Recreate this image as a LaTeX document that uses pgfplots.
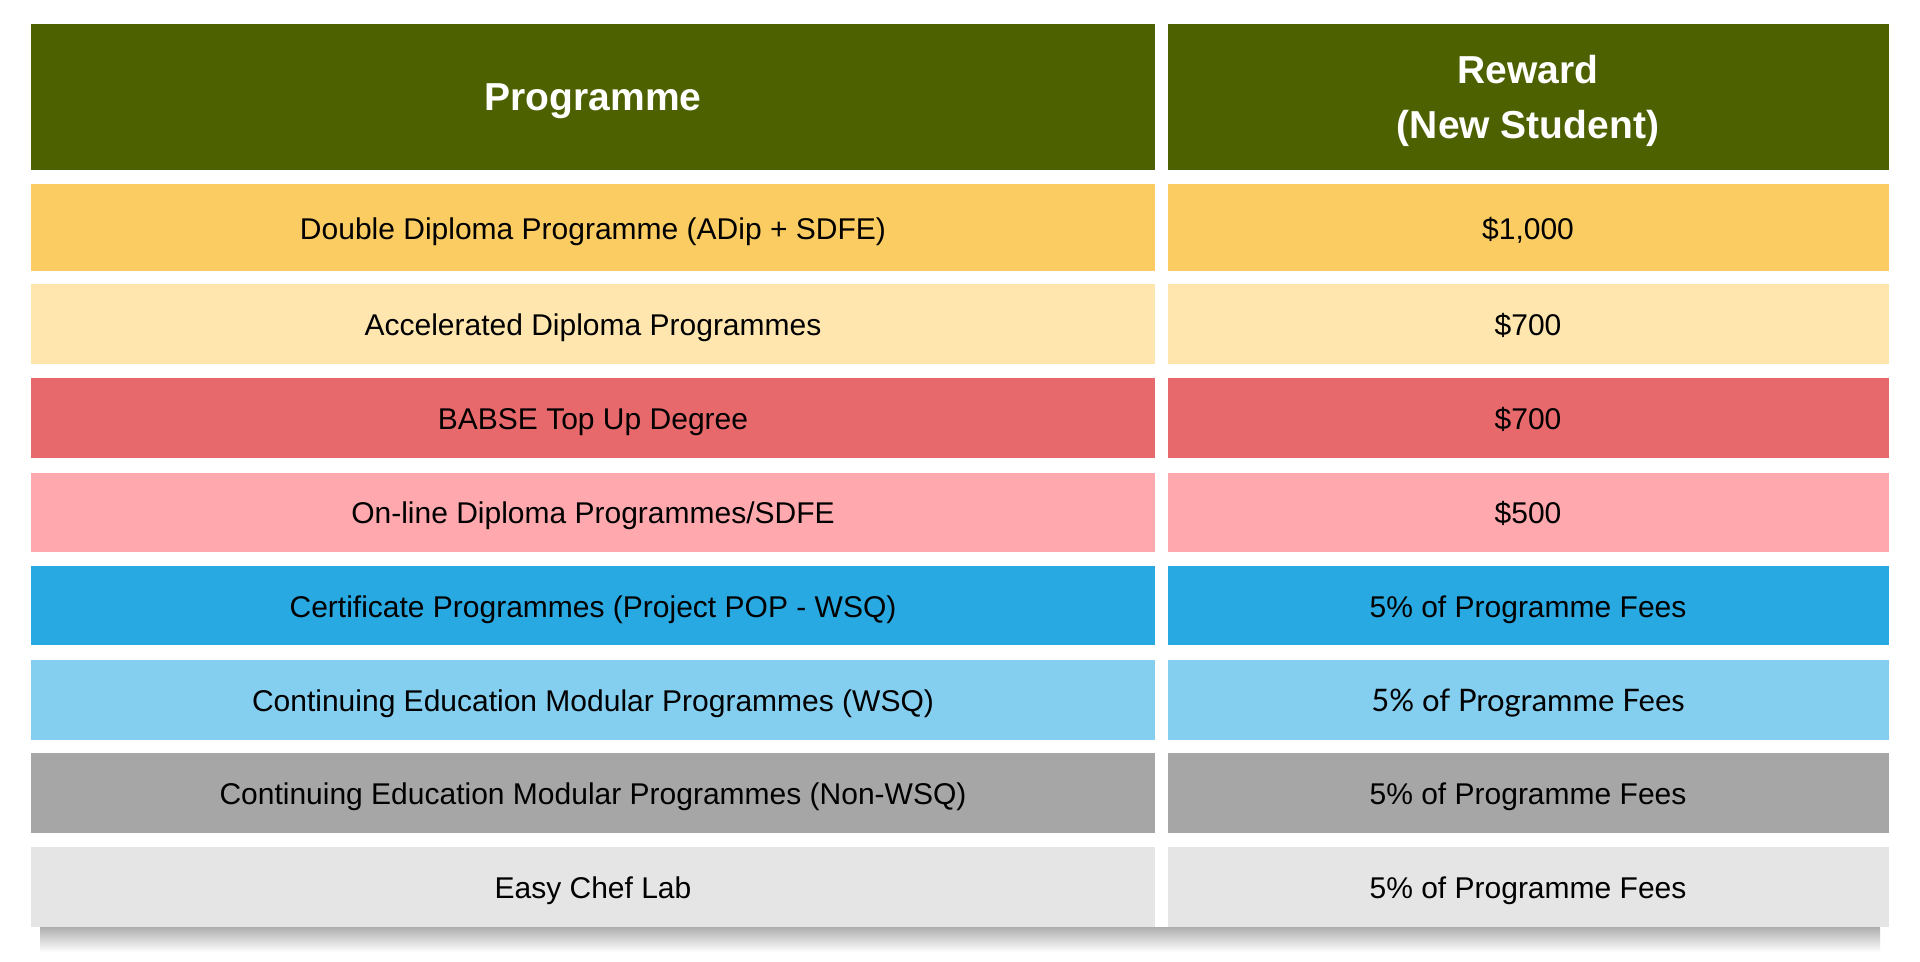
\documentclass[border=0pt]{standalone}
\usepackage{pgfplots}
\pgfplotsset{compat=1.18}
\usepackage{fontspec}
\setmainfont{Liberation Sans}
\newfontfamily\latofont{Lato}
\definecolor{hdr}{HTML}{4E6100}
\definecolor{rA}{HTML}{FBCC62}
\definecolor{rB}{HTML}{FFE6AF}
\definecolor{rC}{HTML}{E8696C}
\definecolor{rD}{HTML}{FFA9AE}
\definecolor{rE}{HTML}{29A9E1}
\definecolor{rF}{HTML}{84CEEF}
\definecolor{rG}{HTML}{A6A6A6}
\definecolor{rH}{HTML}{E5E5E5}
\begin{document}
\begin{tikzpicture}
\begin{axis}[
  width=960bp, height=481bp, scale only axis,
  xmin=0, xmax=1920, ymin=0, ymax=962, y dir=reverse,
  hide axis, clip=false,
]
% background
\addplot[fill=white, draw=none] coordinates {(0,0) (1920,0) (1920,962) (0,962)} --cycle;
% shadow
\fill[top color=black!32, bottom color=white, draw=none] (axis cs:40,927) rectangle (axis cs:1880,952);
% cells: x1 x2 y1 y2
\newcommand{\cell}[5]{\addplot[fill=#5, draw=none] coordinates {(#1,#3) (#2,#3) (#2,#4) (#1,#4)} --cycle;}
% header
\cell{31}{1155}{24}{170}{hdr}
\cell{1168}{1889}{24}{170}{hdr}
% rows
\cell{31}{1155}{184}{271}{rA}  \cell{1168}{1889}{184}{271}{rA}
\cell{31}{1155}{284}{364}{rB}  \cell{1168}{1889}{284}{364}{rB}
\cell{31}{1155}{378}{458}{rC}  \cell{1168}{1889}{378}{458}{rC}
\cell{31}{1155}{473}{552}{rD}  \cell{1168}{1889}{473}{552}{rD}
\cell{31}{1155}{566}{645}{rE}  \cell{1168}{1889}{566}{645}{rE}
\cell{31}{1155}{660}{740}{rF}  \cell{1168}{1889}{660}{740}{rF}
\cell{31}{1155}{753}{833}{rG}  \cell{1168}{1889}{753}{833}{rG}
\cell{31}{1155}{847}{927}{rH}  \cell{1168}{1889}{847}{927}{rH}
% header text
\tikzset{ht/.style={text=white, anchor=base, font=\fontsize{19.5bp}{23bp}\selectfont\bfseries}}
\node[ht] at (axis cs:593,111) {Programme};
\node[ht] at (axis cs:1528,84) {Reward};
\node[ht] at (axis cs:1528,139) {(New Student)};
% body text
\tikzset{bt/.style={text=black, anchor=base, font=\fontsize{15bp}{18bp}\selectfont}}
\node[bt] at (axis cs:593,239) {Double Diploma Programme (ADip + SDFE)};
\node[bt] at (axis cs:1528,239) {\$1,000};
\node[bt] at (axis cs:593,335) {Accelerated Diploma Programmes};
\node[bt] at (axis cs:1528,335) {\$700};
\node[bt] at (axis cs:593,429) {BABSE Top Up Degree};
\node[bt] at (axis cs:1528,429) {\$700};
\node[bt] at (axis cs:593,523) {On-line Diploma Programmes/SDFE};
\node[bt] at (axis cs:1528,523) {\$500};
\node[bt] at (axis cs:593,617) {Certificate Programmes (Project POP - WSQ)};
\node[bt] at (axis cs:1528,617) {5\% of Programme Fees};
\node[bt] at (axis cs:593,711) {Continuing Education Modular Programmes (WSQ)};
\node[text=black, anchor=base, font=\fontsize{15.5bp}{18bp}\latofont] at (axis cs:1528,711) {5\% of Programme Fees};
\node[bt] at (axis cs:593,804) {Continuing Education Modular Programmes (Non-WSQ)};
\node[bt] at (axis cs:1528,804) {5\% of Programme Fees};
\node[bt] at (axis cs:593,898) {Easy Chef Lab};
\node[bt] at (axis cs:1528,898) {5\% of Programme Fees};
\end{axis}
\end{tikzpicture}
\end{document}
